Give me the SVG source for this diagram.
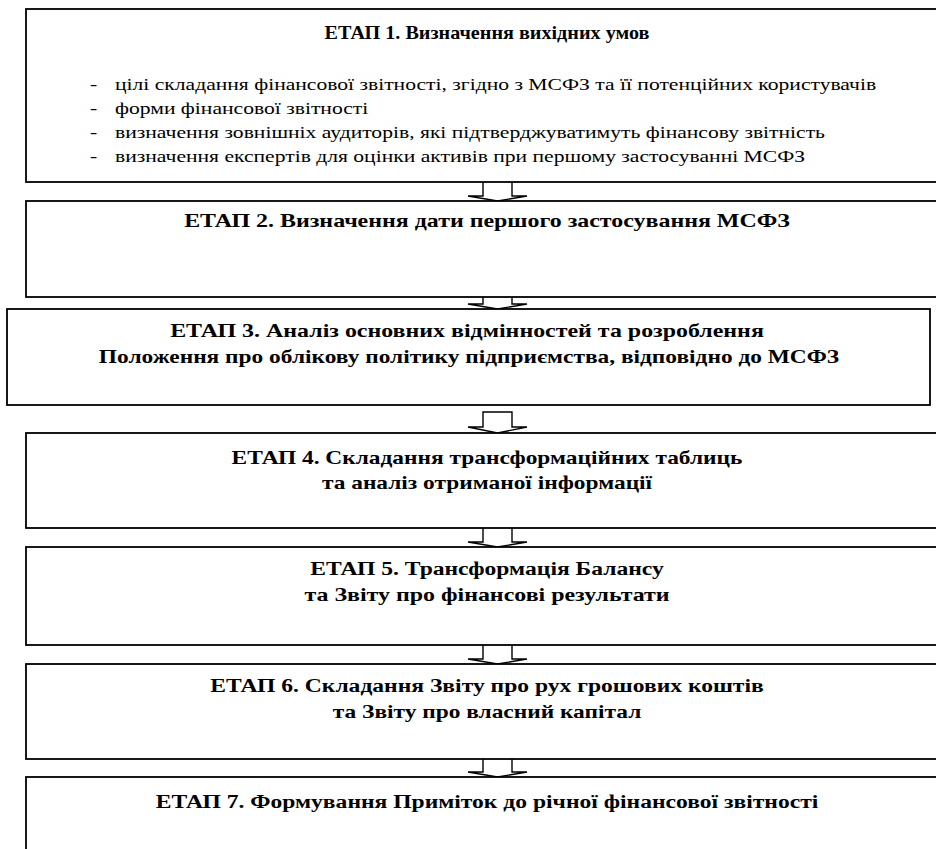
<svg xmlns="http://www.w3.org/2000/svg" width="936" height="849" viewBox="0 0 936 849">
<style>
.box{fill:#fff;stroke:#000;stroke-width:1.8}
.arr{fill:#fff;stroke:#000;stroke-width:1.4;stroke-linejoin:miter}
.t{font-family:"Liberation Serif","Times New Roman",serif;font-weight:bold;font-size:18px;text-anchor:middle;fill:#000}
.b{font-family:"Liberation Serif","Times New Roman",serif;font-size:16px;fill:#000}
</style>
<rect width="936" height="849" fill="#fff"/>
<g id="connectors">
<path class="arr" d="M483,182 V196 H468 L497.5,201 L527,196 H512 V182"/>
<path class="arr" d="M483,297 V304 H468 L497.5,309 L527,304 H512 V297"/>
<path class="arr" d="M483,412 H512 V427 H527 L497.5,433 L468,427 H483 Z"/>
<path class="arr" d="M483,528 V542 H468 L497.5,547 L527,542 H512 V528"/>
<path class="arr" d="M483,645 V659 H468 L497.5,664 L527,659 H512 V645"/>
<path class="arr" d="M483,759 V772 H468 L497.5,777 L527,772 H512 V759"/>
</g>
<g id="n1">
<rect class="box" x="26" y="9" width="930" height="173"/>
<text class="t" transform="translate(487,39) scale(1.12,1)">ЕТАП 1. Визначення вихідних умов</text>
<text class="b" transform="translate(90,90) scale(1.35,1)">-</text><text class="b" transform="translate(115,90) scale(1.35,1)">цілі складання фінансової звітності, згідно з МСФЗ та її потенційних користувачів</text>
<text class="b" transform="translate(90,114) scale(1.35,1)">-</text><text class="b" transform="translate(115,114) scale(1.35,1)">форми фінансової звітності</text>
<text class="b" transform="translate(90,138) scale(1.35,1)">-</text><text class="b" transform="translate(115,138) scale(1.35,1)">визначення зовнішніх аудиторів, які підтверджуватимуть фінансову звітність</text>
<text class="b" transform="translate(90,162) scale(1.35,1)">-</text><text class="b" transform="translate(115,162) scale(1.35,1)">визначення експертів для оцінки активів при першому застосуванні МСФЗ</text>
</g>
<g id="n2">
<rect class="box" x="26" y="201" width="930" height="96"/>
<text class="t" transform="translate(487,227) scale(1.33,1)">ЕТАП 2. Визначення дати першого застосування МСФЗ</text>
</g>
<g id="n3">
<rect class="box" x="7" y="309" width="923" height="96"/>
<text class="t" transform="translate(467,337) scale(1.33,1)">ЕТАП 3. Аналіз основних відмінностей та розроблення</text>
<text class="t" transform="translate(469,363) scale(1.3,1)">Положення про облікову політику підприємства, відповідно до МСФЗ</text>
</g>
<g id="n4">
<rect class="box" x="26" y="433" width="930" height="95"/>
<text class="t" transform="translate(487,464) scale(1.3,1)">ЕТАП 4. Складання трансформаційних таблиць</text>
<text class="t" transform="translate(487,489) scale(1.3,1)">та аналіз отриманої інформації</text>
</g>
<g id="n5">
<rect class="box" x="26" y="547" width="930" height="98"/>
<text class="t" transform="translate(487,575) scale(1.31,1)">ЕТАП 5. Трансформація Балансу</text>
<text class="t" transform="translate(487,601) scale(1.33,1)">та Звіту про фінансові результати</text>
</g>
<g id="n6">
<rect class="box" x="26" y="664" width="930" height="95"/>
<text class="t" transform="translate(487,692) scale(1.31,1)">ЕТАП 6. Складання Звіту про рух грошових коштів</text>
<text class="t" transform="translate(487,718) scale(1.3,1)">та Звіту про власний капітал</text>
</g>
<g id="n7">
<rect class="box" x="26" y="777" width="930" height="90"/>
<text class="t" transform="translate(487,808) scale(1.31,1)">ЕТАП 7. Формування Приміток до річної фінансової звітності</text>
</g>
</svg>
